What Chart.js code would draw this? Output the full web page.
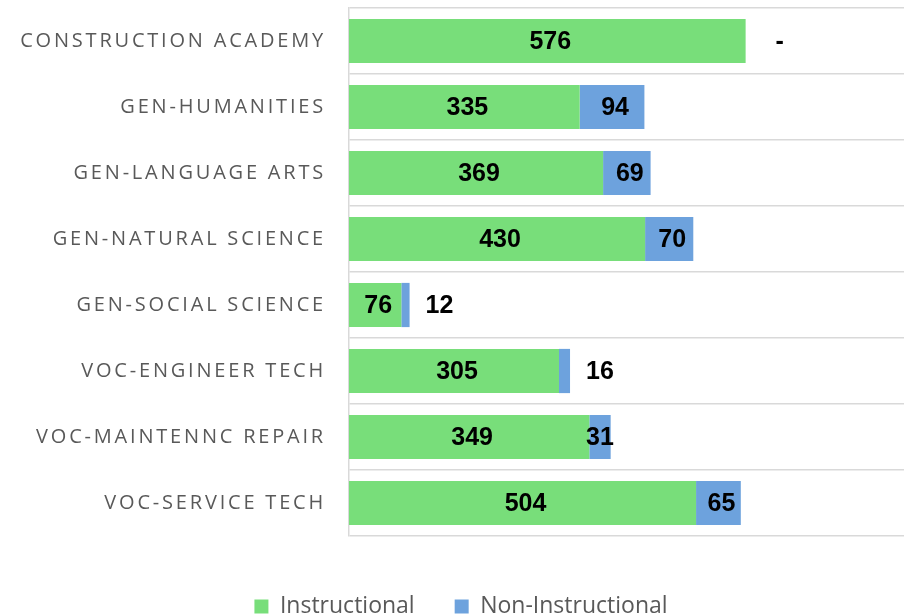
<!doctype html>
<html>

<head>
  <title>Instructional vs Non-Instructional</title>
  <script src="https://cdn.jsdelivr.net/npm/chart.js"></script>
  <style>
    body { margin: 0; background: #fff; }
    #wrap { width: 904px; height: 615px; }
  </style>
</head>

<body>
<div id="wrap"><canvas id="chart"></canvas></div>
<script>
    const categories = [
        'CONSTRUCTION ACADEMY',
        'GEN-HUMANITIES',
        'GEN-LANGUAGE ARTS',
        'GEN-NATURAL SCIENCE',
        'GEN-SOCIAL SCIENCE',
        'VOC-ENGINEER TECH',
        'VOC-MAINTENNC REPAIR',
        'VOC-SERVICE TECH'
    ];
    const instructional = [576, 335, 369, 430, 76, 305, 349, 504];
    const nonInstructional = [0, 94, 69, 70, 12, 16, 31, 65];

    // bold value labels, small segments pushed outside the bar
    const valueLabels = {
        id: 'valueLabels',
        afterDatasetsDraw(chart) {
            const ctx = chart.ctx;
            ctx.save();
            ctx.font = 'bold 25px "Liberation Sans", Arial, sans-serif';
            ctx.fillStyle = '#000';
            ctx.textBaseline = 'middle';
            chart.data.datasets.forEach((ds, di) => {
                chart.getDatasetMeta(di).data.forEach((bar, i) => {
                    const v = ds.data[i];
                    const w = bar.x - bar.base;
                    const y = bar.y + 1.5;
                    if (di === 1 && v === 0) {
                        ctx.textAlign = 'center';
                        ctx.fillText('-', bar.x + 34, y);
                    } else if (di === 1 && w < 20) {
                        ctx.textAlign = 'left';
                        ctx.fillText(v, bar.x + 16, y);
                    } else {
                        const shift = (di === 0 || w > 30) ? 3 : 0;
                        ctx.textAlign = 'center';
                        ctx.fillText(v, (bar.x + bar.base) / 2 + shift, y);
                    }
                });
            });
            ctx.restore();
        }
    };

    // spaced-out category names on the left
    const categoryLabels = {
        id: 'categoryLabels',
        afterDraw(chart) {
            const ctx = chart.ctx;
            const y = chart.scales.y;
            ctx.save();
            ctx.font = '20px "Open Sans", sans-serif';
            ctx.letterSpacing = '2.8px';
            ctx.fillStyle = '#595959';
            ctx.textAlign = 'right';
            ctx.textBaseline = 'middle';
            categories.forEach((c, i) => {
                ctx.fillText(c, 326, y.getPixelForTick(i));
            });
            ctx.restore();
        }
    };

    const ctx = document.getElementById('chart').getContext('2d');
    const chart = new Chart(ctx, {
        type: 'bar',
        data: {
            labels: categories,
            datasets: [{
                label: 'Instructional',
                data: instructional,
                backgroundColor: '#78DE7A',
                barPercentage: 0.67,
                categoryPercentage: 1
            }, {
                label: 'Non-Instructional',
                data: nonInstructional,
                backgroundColor: '#6DA2DD',
                barPercentage: 0.67,
                categoryPercentage: 1
            }]
        },
        options: {
            indexAxis: 'y',
            responsive: true,
            maintainAspectRatio: false,
            animation: false,
            layout: {
                padding: { top: 8, right: 0, bottom: -13, left: 18 }
            },
            scales: {
                x: {
                    stacked: true,
                    min: 0,
                    max: 806,
                    grid: { display: false },
                    border: { display: false },
                    ticks: { display: false },
                    afterFit(scale) { scale.height = 19; }
                },
                y: {
                    stacked: true,
                    grid: { color: '#d9d9d9', lineWidth: 1.5, drawTicks: false },
                    border: { color: '#d9d9d9', width: 1.5 },
                    ticks: { display: false },
                    afterFit(scale) { scale.width = 331; }
                }
            },
            plugins: {
                legend: {
                    position: 'bottom',
                    labels: {
                        boxWidth: 14,
                        boxHeight: 14,
                        padding: 40,
                        color: '#595959',
                        font: { family: '"Open Sans", sans-serif', size: 23 }
                    }
                },
                tooltip: { enabled: false }
            }
        },
        plugins: [valueLabels, categoryLabels]
    });
</script>
</body>

</html>
